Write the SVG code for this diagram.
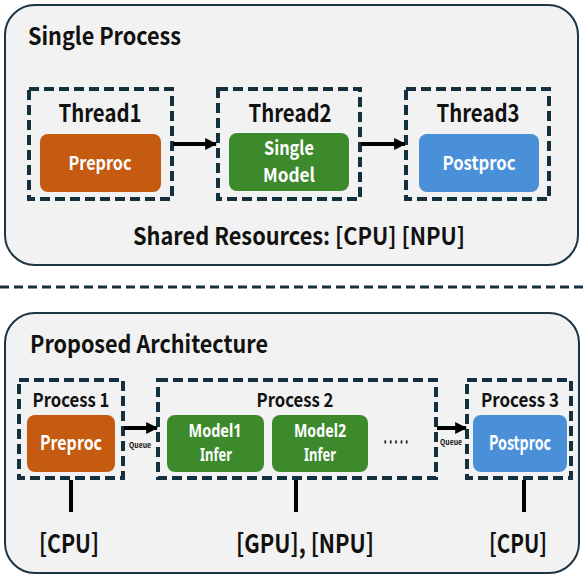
<svg xmlns="http://www.w3.org/2000/svg" width="583" height="577" viewBox="0 0 583 577">
<style>
.panel{fill:#f2f2f2;stroke:#1d3444;stroke-width:2}
.dash{fill:none;stroke:#15303f;stroke-width:4;stroke-dasharray:10 5}
.t{font-family:"Noto Sans CJK KR","Noto Sans",sans-serif;font-weight:bold;fill:#111}
.w{font-family:"Noto Sans CJK KR","Noto Sans",sans-serif;font-weight:bold;fill:#fff}
.ws{font-family:"Noto Sans",sans-serif;font-weight:bold;fill:#fff}
.orange{fill:#c55a11}
.green{fill:#3c8a2c}
.blue{fill:#4a90d9}
.conn{stroke:#000;stroke-width:4;fill:none}
</style>
<defs>
<marker id="ah" viewBox="0 0 10 10" refX="9" refY="5" markerWidth="3" markerHeight="3.2" orient="auto" markerUnits="strokeWidth">
<path d="M0,0 L10,5 L0,10 z" fill="#000"/>
</marker>
</defs>

<g id="single-process">
<rect class="panel" x="5" y="5" width="573" height="260" rx="30"/>
<text class="t" x="28" y="45" font-size="24" textLength="153" lengthAdjust="spacingAndGlyphs">Single Process</text>
<text class="t" x="299" y="245" font-size="24" text-anchor="middle" font-weight="normal" textLength="332" lengthAdjust="spacingAndGlyphs">Shared Resources: [CPU] [NPU]</text>
</g>

<g id="thread1">
<rect class="dash" x="29" y="89" width="143" height="110"/>
<text class="t" x="100" y="122" font-size="24" text-anchor="middle" textLength="83" lengthAdjust="spacingAndGlyphs">Thread1</text>
<rect class="orange" x="40" y="134" width="121" height="58" rx="8"/>
<text class="w" x="100" y="170" font-size="19" text-anchor="middle" textLength="63" lengthAdjust="spacingAndGlyphs">Preproc</text>
</g>

<g id="thread2">
<rect class="dash" x="218" y="89" width="142" height="110"/>
<text class="t" x="290" y="122" font-size="24" text-anchor="middle" textLength="83" lengthAdjust="spacingAndGlyphs">Thread2</text>
<rect class="green" x="229" y="133" width="120" height="58" rx="8"/>
<text class="w" x="289" y="155" font-size="19" text-anchor="middle" textLength="50" lengthAdjust="spacingAndGlyphs">Single</text>
<text class="w" x="289" y="182" font-size="19" text-anchor="middle" textLength="52" lengthAdjust="spacingAndGlyphs">Model</text>
</g>

<g id="thread3">
<rect class="dash" x="406" y="89" width="143" height="110"/>
<text class="t" x="478" y="122" font-size="24" text-anchor="middle" textLength="83" lengthAdjust="spacingAndGlyphs">Thread3</text>
<rect class="blue" x="419" y="134" width="120" height="58" rx="8"/>
<text class="w" x="479" y="170" font-size="19" text-anchor="middle" textLength="73" lengthAdjust="spacingAndGlyphs">Postproc</text>
</g>

<g id="separator">
<line x1="0" y1="287" x2="583" y2="287" stroke="#15303f" stroke-width="3" stroke-dasharray="9 5"/>
</g>

<g id="proposed">
<rect class="panel" x="5" y="313" width="574" height="260" rx="30"/>
<text class="t" x="30" y="353" font-size="24" textLength="238" lengthAdjust="spacingAndGlyphs">Proposed Architecture</text>
</g>

<g id="process1">
<rect class="dash" x="19" y="380" width="104" height="98"/>
<text class="t" x="71" y="407" font-size="19" text-anchor="middle" font-weight="normal" textLength="77" lengthAdjust="spacingAndGlyphs">Process 1</text>
<rect class="orange" x="27" y="415" width="88" height="57" rx="8"/>
<text class="w" x="71" y="450" font-size="20" text-anchor="middle" textLength="62" lengthAdjust="spacingAndGlyphs">Preproc</text>
<text class="t" x="69" y="553" font-size="26" text-anchor="middle" font-weight="normal" textLength="60" lengthAdjust="spacingAndGlyphs">[CPU]</text>
</g>

<g id="process2">
<rect class="dash" x="158" y="380" width="278" height="98"/>
<text class="t" x="295" y="407" font-size="19" text-anchor="middle" font-weight="normal" textLength="77" lengthAdjust="spacingAndGlyphs">Process 2</text>
<rect class="green" x="167" y="415" width="97" height="57" rx="8"/>
<text class="ws" x="215" y="437" font-size="17" text-anchor="middle" textLength="53" lengthAdjust="spacingAndGlyphs">Model1</text>
<text class="ws" x="216" y="461" font-size="17" text-anchor="middle" textLength="32" lengthAdjust="spacingAndGlyphs">Infer</text>
<rect class="green" x="272" y="415" width="96" height="57" rx="8"/>
<text class="ws" x="320" y="437" font-size="17" text-anchor="middle" textLength="52" lengthAdjust="spacingAndGlyphs">Model2</text>
<text class="ws" x="320" y="461" font-size="17" text-anchor="middle" textLength="32" lengthAdjust="spacingAndGlyphs">Infer</text>
<text class="t" x="396" y="449" font-size="20" text-anchor="middle" textLength="27" lengthAdjust="spacingAndGlyphs">·····</text>
<text class="t" x="305" y="553" font-size="26" text-anchor="middle" font-weight="normal" textLength="138" lengthAdjust="spacingAndGlyphs">[GPU], [NPU]</text>
</g>

<g id="process3">
<rect class="dash" x="467" y="380" width="104" height="98"/>
<text class="t" x="520" y="407" font-size="19" text-anchor="middle" font-weight="normal" textLength="78" lengthAdjust="spacingAndGlyphs">Process 3</text>
<rect class="blue" x="473" y="415" width="94" height="57" rx="8"/>
<text class="w" x="520" y="450" font-size="20" text-anchor="middle" textLength="62" lengthAdjust="spacingAndGlyphs">Postproc</text>
<text class="t" x="518" y="553" font-size="26" text-anchor="middle" font-weight="normal" textLength="58" lengthAdjust="spacingAndGlyphs">[CPU]</text>
</g>

<g id="connectors">
<line class="conn" x1="173" y1="144" x2="216" y2="144" marker-end="url(#ah)"/>
<line class="conn" x1="361" y1="144" x2="405" y2="144" marker-end="url(#ah)"/>
<line class="conn" x1="124" y1="428" x2="157" y2="428" marker-end="url(#ah)"/>
<text class="t" x="140" y="448" font-size="8" text-anchor="middle" textLength="22" lengthAdjust="spacingAndGlyphs">Queue</text>
<line class="conn" x1="437" y1="428" x2="466" y2="428" marker-end="url(#ah)"/>
<text class="t" x="451" y="445" font-size="8" text-anchor="middle" textLength="22" lengthAdjust="spacingAndGlyphs">Queue</text>
<line class="conn" x1="71" y1="480" x2="71" y2="512"/>
<line class="conn" x1="296" y1="480" x2="296" y2="512"/>
<line class="conn" x1="524" y1="480" x2="524" y2="512"/>
</g>
</svg>
